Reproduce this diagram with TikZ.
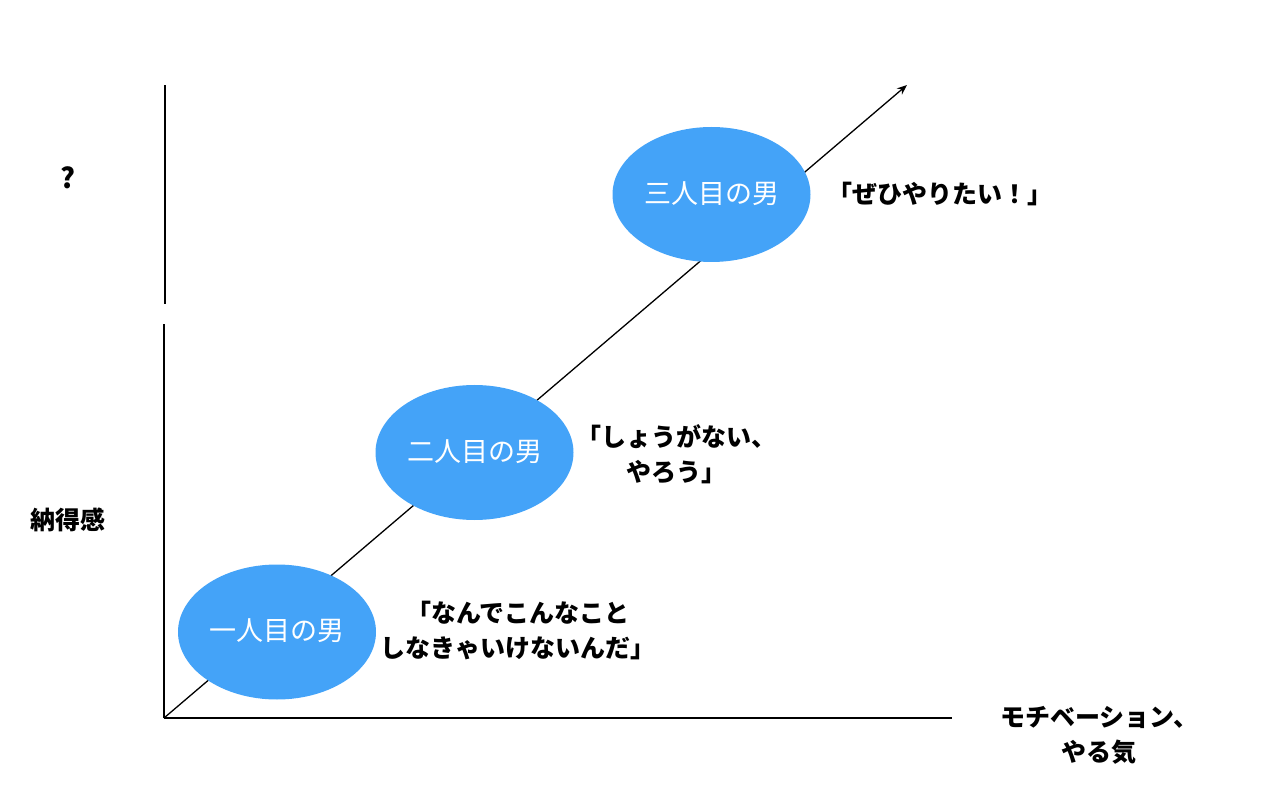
\documentclass[tikz,border=0pt]{standalone}
\usepackage{fontspec}
\setmainfont{Noto Sans CJK JP}
\usetikzlibrary{arrows.meta}
\usetikzlibrary{shapes.geometric}
\definecolor{manblue}{RGB}{68,163,248}
\tikzstyle{man} = [ellipse,fill=manblue,draw=none,minimum width=198pt,minimum height=135pt,inner sep=0pt, text=white, font=\fontsize{27}{30}\selectfont]
\tikzstyle{voice} = [align=center, inner sep=0pt, font=\bfseries\fontsize{25}{35}\selectfont]
\tikzstyle{axis} = [line width=2pt]

\begin{document}
\begin{tikzpicture}[x=1pt,y=-1pt]
\useasboundingbox (0,0) rectangle (1278,810);

% Define coordinates
\coordinate (o)    at (164,718);
\coordinate (xend) at (952,718);
\coordinate (ylow) at (164,324);
\coordinate (ytop) at (165,304);
\coordinate (yend) at (165,85);
\coordinate (tip)  at (907,85);

% Axes
\draw[axis] (o) -- (xend);
\draw[axis] (o) -- (ylow);
\draw[axis] (ytop) -- (yend);
\draw[line width=1.3pt, -{Stealth[length=10pt,width=8pt]}] (o) -- (tip);

% Define nodes
\node[man] (m1) at (277,632) {\raisebox{4pt}{一人目の男}};
\node[man] (m2) at (474.5,452.5) {\raisebox{4pt}{二人目の男}};
\node[man] (m3) at (711.5,194.5) {\raisebox{4pt}{三人目の男}};

\node[voice] (v1) at (518,631) {「なんでこんなこと\\しなきゃいけないんだ」};
\node[voice] (v2) at (676,454) {「しょうがない、\\やろう」};
\node[voice] (v3) at (940,194) {「ぜひやりたい！」};

\node[voice] (q)  at (68,178) {\fontsize{28}{30}\selectfont ?};
\node[voice] (ny) at (68,520) {納得感};
\node[voice] (nx) at (1099,735) {モチベーション、\\やる気};
\end{tikzpicture}
\end{document}
